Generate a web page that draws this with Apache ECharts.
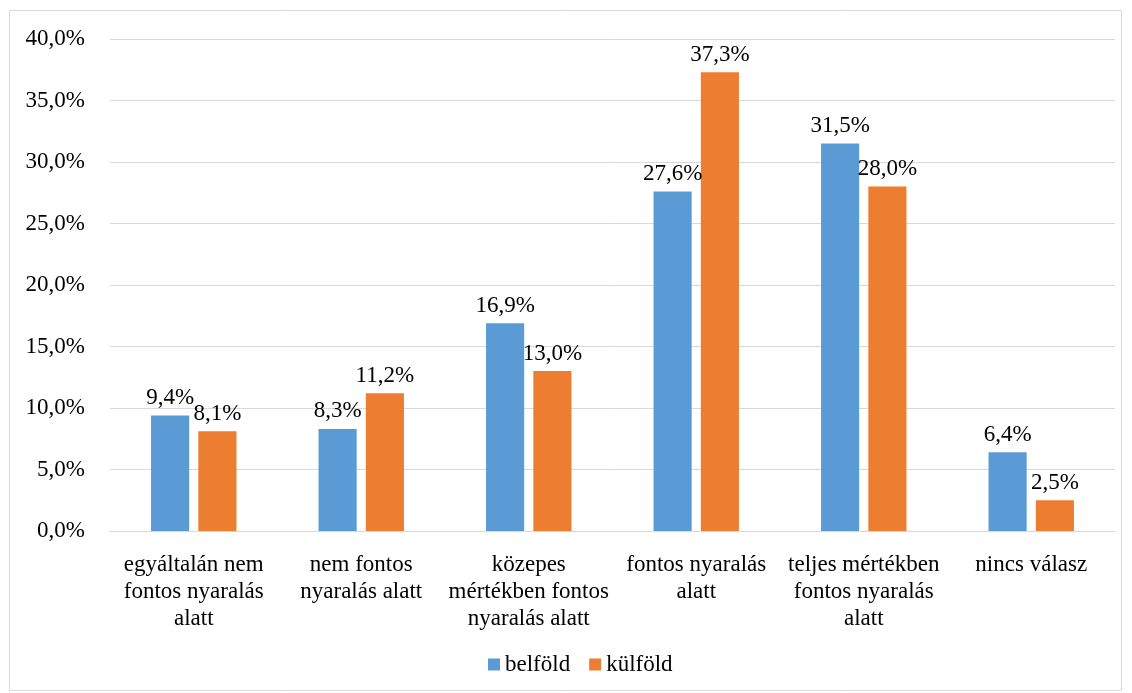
<!DOCTYPE html>
<html>
<head>
<meta charset="utf-8">
<script src="https://cdn.jsdelivr.net/npm/echarts@6/dist/echarts.min.js"></script>
<style>
html,body{margin:0;padding:0;background:#fff;}
#c{width:1132px;height:693px;}
</style>
</head>
<body>
<div id="c"></div>
<script>
const categories = [
  'egyáltalán nem\nfontos nyaralás\nalatt',
  'nem fontos\nnyaralás alatt',
  'közepes\nmértékben fontos\nnyaralás alatt',
  'fontos nyaralás\nalatt',
  'teljes mértékben\nfontos nyaralás\nalatt',
  'nincs válasz'
];
const seriesNames = ['belföld', 'külföld'];
const belfold = [9.4, 8.3, 16.9, 27.6, 31.5, 6.4];
const kulfold = [8.1, 11.2, 13.0, 37.3, 28.0, 2.5];
const yTicks = { min: 0, max: 40, interval: 5 };

const FONT = '"Liberation Serif", "Times New Roman", serif';
const FS = 23;
const fmt = v => v.toFixed(1).replace('.', ',') + '%';

const chart = echarts.init(document.getElementById('c'));
chart.setOption({
  animation: false,
  textStyle: { fontFamily: FONT },
  graphic: [{
    type: 'rect',
    shape: { x: 9.5, y: 10.5, width: 1112, height: 680 },
    style: { fill: 'none', stroke: '#d9d9d9', lineWidth: 1 },
    silent: true
  }],
  grid: { left: 110, right: 17, top: 39, bottom: 162, containLabel: false },
  legend: {
    bottom: 12,
    left: 483,
    itemWidth: 12,
    itemHeight: 12,
    itemGap: 19,
    icon: 'rect',
    textStyle: { fontFamily: FONT, fontSize: FS, color: '#000' },
    data: seriesNames
  },
  xAxis: {
    type: 'category',
    data: categories,
    axisLine: { lineStyle: { color: '#d9d9d9', width: 1 } },
    axisTick: { show: false },
    axisLabel: {
      interval: 0,
      margin: 20,
      fontFamily: FONT,
      fontSize: FS,
      lineHeight: 27,
      color: '#000'
    }
  },
  yAxis: {
    type: 'value',
    min: yTicks.min,
    max: yTicks.max,
    interval: yTicks.interval,
    axisLine: { show: false },
    axisTick: { show: false },
    splitLine: { lineStyle: { color: '#d9d9d9', width: 1 } },
    axisLabel: {
      margin: 25,
      fontFamily: FONT,
      fontSize: FS,
      color: '#000',
      formatter: v => fmt(v)
    }
  },
  series: [
    {
      name: seriesNames[0],
      type: 'bar',
      data: belfold,
      barGap: '24%',
      barCategoryGap: '49%',
      itemStyle: { color: '#5B9BD5' },
      label: {
        show: true, position: 'top', distance: 6,
        fontFamily: FONT, fontSize: FS, color: '#000',
        formatter: p => fmt(p.value)
      }
    },
    {
      name: seriesNames[1],
      type: 'bar',
      data: kulfold,
      itemStyle: { color: '#ED7D31' },
      label: {
        show: true, position: 'top', distance: 6,
        fontFamily: FONT, fontSize: FS, color: '#000',
        formatter: p => fmt(p.value)
      }
    }
  ]
});
</script>
</body>
</html>
